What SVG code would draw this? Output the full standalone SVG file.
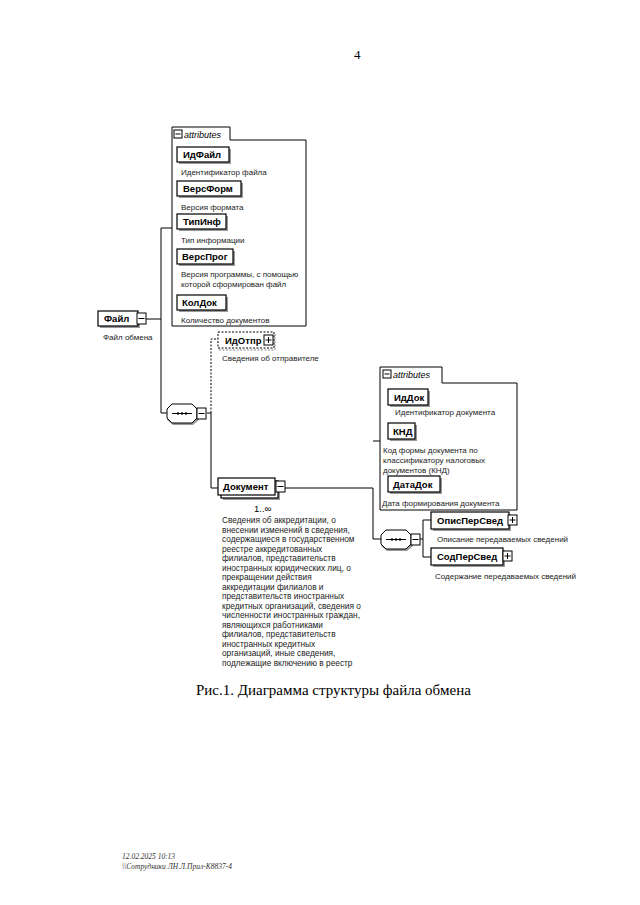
<svg xmlns="http://www.w3.org/2000/svg" width="640" height="905" viewBox="0 0 640 905">
<style>
.bg{fill:#fff}
.nd{fill:#fff;stroke:#000;stroke-width:1.2}
.sh{fill:#9a9a9a}
.lbl{font-family:"Liberation Sans",Arial,sans-serif;font-weight:bold;font-size:9.5px;fill:#000}
.ds{font-family:"Liberation Sans",Arial,sans-serif;font-size:8px;fill:#222}
.dd{font-family:"Liberation Sans",Arial,sans-serif;font-size:8.3px;fill:#222}
.ln{fill:none;stroke:#000;stroke-width:1}
.dash{fill:none;stroke:#000;stroke-width:1;stroke-dasharray:2,1.5}
.box{fill:#fff;stroke:#000;stroke-width:1}
.att{font-family:"Liberation Sans",Arial,sans-serif;font-style:italic;font-size:9px;fill:#000}
.ic{fill:#fff;stroke:#000;stroke-width:1}
</style>
<defs>
<g id="minus"><rect class="ic" x="0" y="0" width="9" height="11"/><path class="ln" d="M1.5,5.5H7.5"/></g>
<g id="plus"><rect class="ic" x="0" y="0" width="9" height="10"/><path class="ln" d="M1.5,5H7.5M4.5,2V8"/></g>
<g id="seq"><path d="M6,2 H26 L32,8 V16 L26,21 H6 L0,16 V8 Z" fill="#9a9a9a"/><path d="M5,0 H25 L30,5 V14 L25,19 H5 L0,14 V5 Z" fill="#fff" stroke="#000" stroke-width="1"/><path class="ln" d="M5,9.5H25"/><circle cx="11" cy="9.5" r="1.2"/><circle cx="15" cy="9.5" r="1.2"/><circle cx="19" cy="9.5" r="1.2"/></g>
</defs>
<rect class="bg" x="0" y="0" width="640" height="905"/>
<text x="354" y="59" font-family="Liberation Serif,serif" font-size="13">4</text>

<g id="connectors">
<path class="ln" d="M146,319 H161"/>
<path class="ln" d="M172,228 H161 V413 H167"/>
<path class="ln" d="M207,413 H211 V488 H218"/>
<path class="dash" d="M211,413 V339 H218"/>
<path class="ln" d="M285,488 H373 V539 H381"/>
<path class="ln" d="M373,441 H380"/>
<path class="ln" d="M420,539 H423"/>
<path class="ln" d="M431,520 H423 V557 H431"/>
</g>

<g id="attributes1">
<path class="box" d="M172,127 H230 V140 H306 V326 H172 Z"/>
<rect class="ic" x="174" y="130" width="8" height="8"/><path class="ln" d="M175.5,134H180.5"/>
<text class="att" x="184" y="137.5">attributes</text>
</g>
<g id="ИдФайл"><rect class="sh" x="179" y="149" width="52" height="15"/><rect class="nd" x="177" y="147" width="52" height="15"/><text class="lbl" x="183" y="158">ИдФайл</text><text class="ds" x="181" y="175">Идентификатор файла</text></g>
<g id="ВерсФорм"><rect class="sh" x="179" y="183" width="64" height="15"/><rect class="nd" x="177" y="181" width="64" height="15"/><text class="lbl" x="183" y="192">ВерсФорм</text><text class="ds" x="181" y="210">Версия формата</text></g>
<g id="ТипИнф"><rect class="sh" x="179" y="216" width="49" height="15"/><rect class="nd" x="177" y="214" width="49" height="15"/><text class="lbl" x="183" y="225">ТипИнф</text><text class="ds" x="181" y="243">Тип информации</text></g>
<g id="ВерсПрог"><rect class="sh" x="179" y="251" width="56" height="15"/><rect class="nd" x="177" y="249" width="56" height="15"/><text class="lbl" x="182" y="260">ВерсПрог</text><text class="ds" x="181" y="277">Версия программы, с помощью</text><text class="ds" x="181" y="287">которой сформирован файл</text></g>
<g id="КолДок"><rect class="sh" x="179" y="297" width="49" height="15"/><rect class="nd" x="177" y="295" width="49" height="15"/><text class="lbl" x="182" y="306">КолДок</text><text class="ds" x="181" y="323">Количество документов</text></g>

<g id="Файл"><rect class="sh" x="100" y="313" width="40" height="15"/><rect class="nd" x="98" y="311" width="40" height="15"/><text class="lbl" x="104" y="322">Файл</text><use href="#minus" x="137" y="313"/><text class="ds" x="103" y="340">Файл обмена</text></g>

<g id="seq1"><use href="#seq" x="167" y="404"/><use href="#minus" x="197" y="408"/></g>

<g id="ИдОтпр"><rect x="219" y="334" width="56" height="16" fill="none" stroke="#888" stroke-width="1" stroke-dasharray="2,1.5"/><rect x="218" y="332" width="56" height="16" fill="#fff" stroke="#000" stroke-width="1" stroke-dasharray="2,1.5"/><text class="lbl" x="225" y="344">ИдОтпр</text><use href="#plus" x="264" y="335"/><text class="ds" x="222" y="361">Сведения об отправителе</text></g>

<g id="Документ"><rect class="sh" x="223" y="483" width="57" height="17"/><rect class="nd" x="221" y="481" width="57" height="17"/><rect class="nd" x="218" y="478" width="57" height="17"/><text class="lbl" x="223" y="490">Документ</text><use href="#minus" x="276" y="481"/><text x="254" y="512" font-family="Liberation Sans,Arial,sans-serif" font-size="9.5">1..∞</text>
<text class="dd" x="222" y="523">Сведения об аккредитации, о</text>
<text class="dd" x="222" y="532.5">внесении изменений в сведения,</text>
<text class="dd" x="222" y="542">содержащиеся в государственном</text>
<text class="dd" x="222" y="551.5">реестре аккредитованных</text>
<text class="dd" x="222" y="561">филиалов, представительств</text>
<text class="dd" x="222" y="570.5">иностранных юридических лиц, о</text>
<text class="dd" x="222" y="580">прекращении действия</text>
<text class="dd" x="222" y="589.5">аккредитации филиалов и</text>
<text class="dd" x="222" y="599">представительств иностранных</text>
<text class="dd" x="222" y="608.5">кредитных организаций, сведения о</text>
<text class="dd" x="222" y="618">численности иностранных граждан,</text>
<text class="dd" x="222" y="627.5">являющихся работниками</text>
<text class="dd" x="222" y="637">филиалов, представительств</text>
<text class="dd" x="222" y="646.5">иностранных кредитных</text>
<text class="dd" x="222" y="656">организаций, иные сведения,</text>
<text class="dd" x="222" y="665.5">подлежащие включению в реестр</text>
</g>

<g id="attributes2">
<path class="box" d="M380,367 H442 V383 H517 V510 H380 Z"/>
<rect class="ic" x="383" y="370" width="8" height="8"/><path class="ln" d="M384.5,374H389.5"/>
<text class="att" x="393" y="377.5">attributes</text>
</g>
<g id="ИдДок"><rect class="sh" x="390" y="391" width="40" height="16"/><rect class="nd" x="388" y="389" width="40" height="16"/><text class="lbl" x="394" y="401">ИдДок</text><text class="ds" x="395" y="415">Идентификатор документа</text></g>
<g id="КНД"><rect class="sh" x="390" y="425" width="27" height="16"/><rect class="nd" x="388" y="423" width="27" height="16"/><text class="lbl" x="393" y="435">КНД</text><text class="ds" x="383" y="453">Код формы документа по</text><text class="ds" x="383" y="463">классификатору налоговых</text><text class="ds" x="383" y="473">документов (КНД)</text></g>
<g id="ДатаДок"><rect class="sh" x="390" y="478" width="52" height="16"/><rect class="nd" x="388" y="476" width="52" height="16"/><text class="lbl" x="393" y="488">ДатаДок</text><text class="ds" x="382" y="506">Дата формирования документа</text></g>

<g id="seq2"><use href="#seq" x="381" y="530"/><use href="#minus" x="411" y="534"/></g>

<g id="ОписПерСвед"><rect class="sh" x="433" y="514" width="78" height="17"/><rect class="nd" x="431" y="512" width="78" height="17"/><text class="lbl" x="437" y="524">ОписПерСвед</text><use href="#plus" x="508" y="515"/><text class="ds" x="437" y="542">Описание передаваемых сведений</text></g>
<g id="СодПерСвед"><rect class="sh" x="433" y="550" width="72" height="17"/><rect class="nd" x="431" y="548" width="72" height="17"/><text class="lbl" x="437" y="560">СодПерСвед</text><use href="#plus" x="503" y="551"/><text class="ds" x="435" y="579">Содержание передаваемых сведений</text></g>

<text x="196" y="695" font-family="Liberation Serif,serif" font-size="15">Рис.1. Диаграмма структуры файла обмена</text>
<text x="122" y="859" font-family="Liberation Serif,serif" font-style="italic" font-size="7.5" fill="#333">12.02.2025 10:13</text>
<text x="122" y="869" font-family="Liberation Serif,serif" font-style="italic" font-size="7.5" fill="#333">\\Сотрудники ЛН.Л.Прил-К8837-4</text>
</svg>
